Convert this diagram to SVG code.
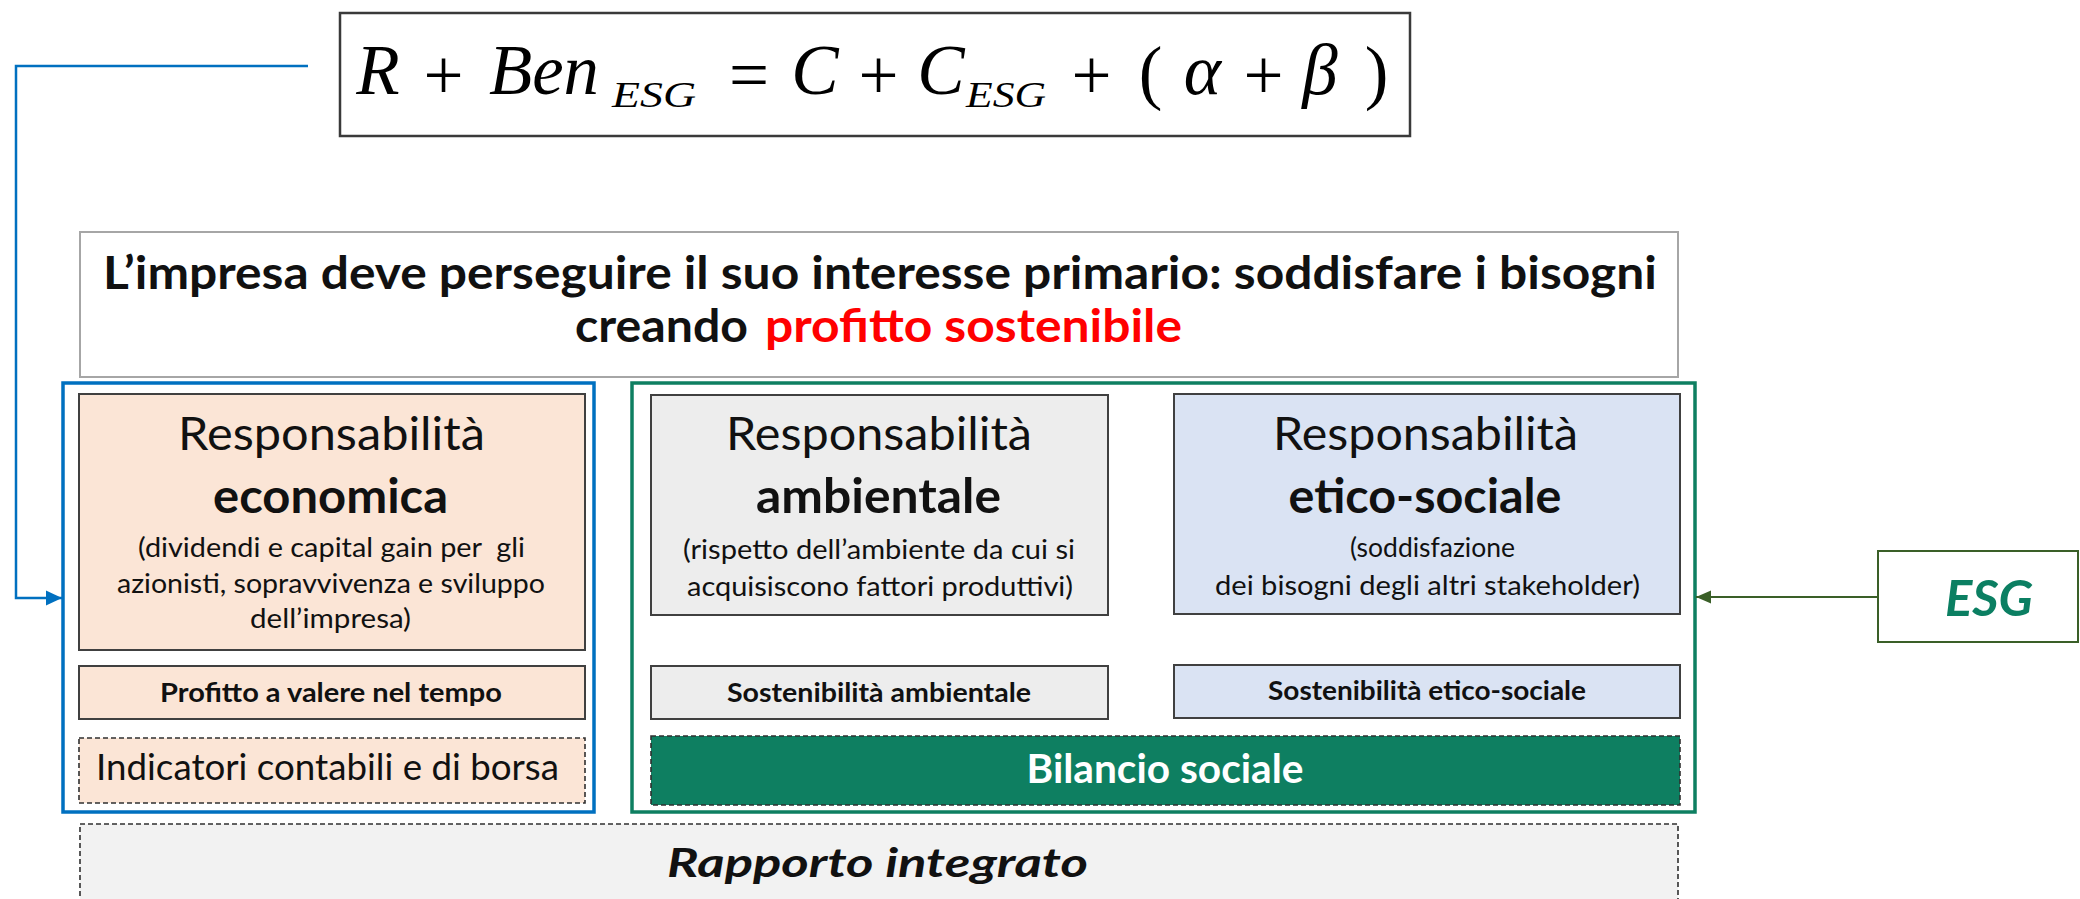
<svg xmlns="http://www.w3.org/2000/svg" width="2080" height="899" viewBox="0 0 2080 899">
<style>
.t{font-family:Lato,"Open Sans","Liberation Sans",sans-serif;fill:#111;text-anchor:middle}
.b{font-weight:700}
.m{font-family:"Liberation Serif","DejaVu Serif",serif;fill:#000}
.mi{font-style:italic}
.box{stroke:#404040;stroke-width:2}
.dash{stroke:#303030;stroke-width:1.6;stroke-dasharray:5 3}
.con{fill:none}
</style>
<defs>
<marker id="arrBlue" markerUnits="userSpaceOnUse" markerWidth="16" markerHeight="16" viewBox="0 0 16 16" refX="16" refY="8" orient="auto">
<path d="M0,0.5 L16,8 L0,15.5 z" fill="#0070C0"/>
</marker>
<marker id="arrGreen" markerUnits="userSpaceOnUse" markerWidth="15" markerHeight="14" viewBox="0 0 15 14" refX="15" refY="7" orient="auto">
<path d="M0,0.5 L15,7 L0,13.5 z" fill="#3A5F28"/>
</marker>
</defs>
<rect width="2080" height="899" fill="#fff"/>

<g id="formula">
<rect x="340" y="13" width="1070" height="123" fill="#fff" stroke="#3a3a3a" stroke-width="2.5"/>
<text class="m mi" x="378" y="94" font-size="71" text-anchor="middle">R</text>
<text class="m" x="443.5" y="99" font-size="71" text-anchor="middle">+</text>
<text class="m mi" x="489" y="94" font-size="71" textLength="110" lengthAdjust="spacingAndGlyphs">Ben</text>
<text class="m mi" x="612" y="107" font-size="36" textLength="84" lengthAdjust="spacingAndGlyphs">ESG</text>
<text class="m" x="749" y="99" font-size="71" text-anchor="middle">=</text>
<text class="m mi" x="815" y="94" font-size="71" text-anchor="middle">C</text>
<text class="m" x="878.5" y="99" font-size="71" text-anchor="middle">+</text>
<text class="m mi" x="941" y="94" font-size="71" text-anchor="middle">C</text>
<text class="m mi" x="966" y="107" font-size="36" textLength="80" lengthAdjust="spacingAndGlyphs">ESG</text>
<text class="m" x="1091.5" y="99" font-size="71" text-anchor="middle">+</text>
<text class="m" x="1150.5" y="96" font-size="71" text-anchor="middle">(</text>
<text class="m mi" x="1202.5" y="94" font-size="71" text-anchor="middle">α</text>
<text class="m" x="1263.5" y="99" font-size="71" text-anchor="middle">+</text>
<text class="m mi" x="1320" y="94" font-size="71" text-anchor="middle">β</text>
<text class="m" x="1376.5" y="96" font-size="71" text-anchor="middle">)</text>
</g>

<g id="title">
<rect x="80" y="232" width="1598" height="145" fill="#fff" stroke="#a6a6a6" stroke-width="2"/>
<text class="t b" x="880" y="289" font-size="45" textLength="1554" lengthAdjust="spacingAndGlyphs">L’impresa deve perseguire il suo interesse primario: soddisfare i bisogni</text>
<text class="t b" x="575" y="342" font-size="45" style="text-anchor:start" textLength="173" lengthAdjust="spacingAndGlyphs">creando</text>
<text class="t b" x="765" y="342" font-size="45" style="text-anchor:start;fill:#ff0000" textLength="417" lengthAdjust="spacingAndGlyphs">profitto sostenibile</text>
</g>

<g id="economica-group">
<rect x="63" y="383" width="531" height="429" fill="none" stroke="#0070C0" stroke-width="3.5"/>
</g>

<g id="resp-economica">
<rect x="79" y="394" width="506" height="256" fill="#FBE5D6" class="box"/>
<text class="t" x="331.5" y="450" font-size="46" textLength="307" lengthAdjust="spacingAndGlyphs">Responsabilità</text>
<text class="t b" x="330.5" y="513" font-size="47" textLength="235" lengthAdjust="spacingAndGlyphs">economica</text>
<text class="t" x="331.5" y="557" font-size="27" textLength="387" lengthAdjust="spacingAndGlyphs" xml:space="preserve">(dividendi e capital gain per  gli</text>
<text class="t" x="331" y="593" font-size="27" textLength="428" lengthAdjust="spacingAndGlyphs">azionisti, sopravvivenza e sviluppo</text>
<text class="t" x="330.5" y="628" font-size="27" textLength="161" lengthAdjust="spacingAndGlyphs">dell’impresa)</text>
</g>

<g id="profitto">
<rect x="79" y="666" width="506" height="53" fill="#FBE5D6" class="box"/>
<text class="t b" x="331" y="702" font-size="27" textLength="342" lengthAdjust="spacingAndGlyphs">Profitto a valere nel tempo</text>
</g>

<g id="indicatori">
<rect x="79" y="738" width="506" height="65" fill="#FBE5D6" class="dash"/>
<text class="t" x="327.5" y="780" font-size="36" textLength="463" lengthAdjust="spacingAndGlyphs">Indicatori contabili e di borsa</text>
</g>

<g id="esg-group">
<rect x="632" y="383" width="1063" height="429" fill="none" stroke="#0E7F61" stroke-width="3.5"/>
</g>

<g id="resp-ambientale">
<rect x="651" y="395" width="457" height="220" fill="#EDEDED" class="box"/>
<text class="t" x="879" y="450" font-size="46" textLength="306" lengthAdjust="spacingAndGlyphs">Responsabilità</text>
<text class="t b" x="878.5" y="513" font-size="47" textLength="245" lengthAdjust="spacingAndGlyphs">ambientale</text>
<text class="t" x="879" y="559" font-size="27" textLength="392" lengthAdjust="spacingAndGlyphs">(rispetto dell’ambiente da cui si</text>
<text class="t" x="880" y="596" font-size="27" textLength="386" lengthAdjust="spacingAndGlyphs">acquisiscono fattori produttivi)</text>
</g>

<g id="resp-etico">
<rect x="1174" y="394" width="506" height="220" fill="#DAE3F3" class="box"/>
<text class="t" x="1425.5" y="450" font-size="46" textLength="305" lengthAdjust="spacingAndGlyphs">Responsabilità</text>
<text class="t b" x="1425" y="513" font-size="47" textLength="273" lengthAdjust="spacingAndGlyphs">etico-sociale</text>
<text class="t" x="1432.5" y="557" font-size="27" textLength="165" lengthAdjust="spacingAndGlyphs">(soddisfazione</text>
<text class="t" x="1427.5" y="595" font-size="27" textLength="425" lengthAdjust="spacingAndGlyphs">dei bisogni degli altri stakeholder)</text>
</g>

<g id="sost-ambientale">
<rect x="651" y="666" width="457" height="53" fill="#EDEDED" class="box"/>
<text class="t b" x="879" y="702" font-size="27" textLength="304" lengthAdjust="spacingAndGlyphs">Sostenibilità ambientale</text>
</g>

<g id="sost-etico">
<rect x="1174" y="665" width="506" height="53" fill="#DAE3F3" class="box"/>
<text class="t b" x="1427" y="700" font-size="27" textLength="318" lengthAdjust="spacingAndGlyphs">Sostenibilità etico-sociale</text>
</g>

<g id="bilancio">
<rect x="651" y="736" width="1029" height="69" fill="#0E7F61" class="dash"/>
<text class="t b" x="1165" y="783" font-size="40" style="fill:#fff" textLength="277" lengthAdjust="spacingAndGlyphs">Bilancio sociale</text>
</g>

<g id="rapporto">
<rect x="80" y="824" width="1598" height="90" fill="#F2F2F2" class="dash"/>
<text class="t b" x="877.5" y="877" font-size="41" font-style="italic" textLength="421" lengthAdjust="spacingAndGlyphs">Rapporto integrato</text>
</g>

<g id="esg">
<rect x="1878" y="551" width="200" height="91" fill="#fff" stroke="#3A5F28" stroke-width="2"/>
<text class="t b" x="1989" y="616" font-size="50" font-style="italic" style="fill:#0B7F62" textLength="88" lengthAdjust="spacingAndGlyphs">ESG</text>
</g>

<g id="connectors">
<path class="con" d="M308,66 H16 V598 H62" stroke="#0070C0" stroke-width="2.5" marker-end="url(#arrBlue)"/>
<path class="con" d="M1878,597 H1696" stroke="#3A5F28" stroke-width="2.2" marker-end="url(#arrGreen)"/>
</g>
</svg>
